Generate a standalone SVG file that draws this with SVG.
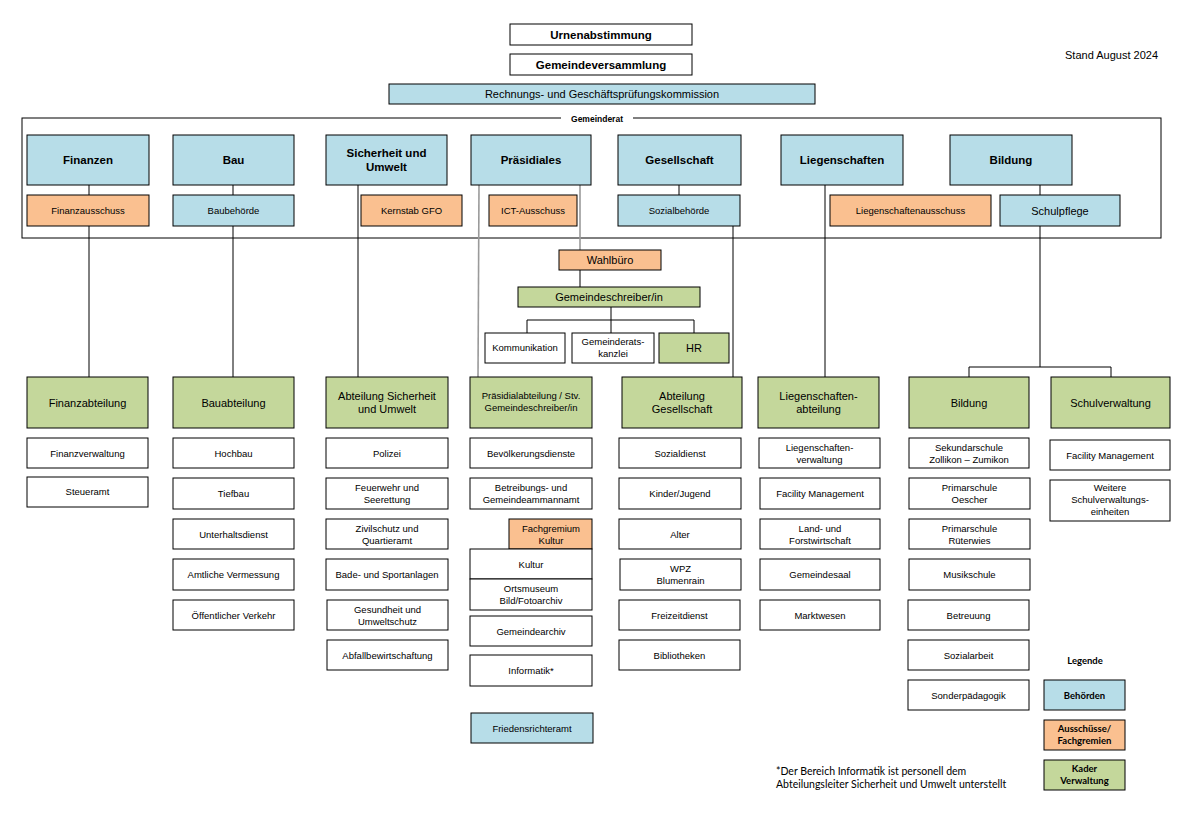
<svg xmlns="http://www.w3.org/2000/svg" width="1195" height="829" viewBox="0 0 1195 829">
<style>
.w,.b,.o,.g,.fr{stroke:#000;stroke-width:1}
.w{fill:#fff}.b{fill:#b7dde8}.o{fill:#fac090}.g{fill:#c4d79b}.fr{fill:none}
text{font-family:"Liberation Sans",Arial,sans-serif;fill:#000;text-anchor:middle}
.h{font-size:11.5px;font-weight:bold}
.m{font-size:11px}
.s{font-size:9.5px}
.c{font-family:Lato,"Noto Sans",sans-serif}
.cl{font-family:Lato,"Noto Sans",sans-serif;font-size:9.5px;font-weight:bold}
.con line{stroke:#000;stroke-width:1}
.con line.gr{stroke:#9a9a9a;stroke-width:1.6}
</style>
<rect width="1195" height="829" fill="#fff"/>

<g id="gemeinderat-frame">
<rect class="fr" x="22" y="118" width="1139" height="120"/>
<rect x="561" y="113" width="72" height="10" fill="#fff"/>
<text x="597" y="122" style="font-size:8.5px;font-weight:bold">Gemeinderat</text>
</g>

<g class="con" id="connectors">
<line x1="89" y1="185" x2="89" y2="195"/><line x1="89" y1="226" x2="89" y2="377"/>
<line x1="233" y1="185" x2="233" y2="195"/><line x1="233" y1="226" x2="233" y2="377"/>
<line x1="358" y1="185" x2="358" y2="377"/>
<line class="gr" x1="479" y1="185" x2="478" y2="377"/>
<line class="gr" x1="580" y1="185" x2="580" y2="250"/>
<line x1="580" y1="270" x2="580" y2="287"/>
<line x1="611" y1="307" x2="611" y2="333"/>
<line x1="527" y1="320" x2="694" y2="320"/>
<line x1="527" y1="320" x2="527" y2="333"/>
<line x1="694" y1="320" x2="694" y2="333"/>
<line x1="679" y1="185" x2="679" y2="195"/><line x1="733" y1="226" x2="733" y2="377"/>
<line x1="825" y1="185" x2="825" y2="377"/>
<line x1="1040" y1="185" x2="1040" y2="195"/><line x1="1040" y1="226" x2="1040" y2="367"/>
<line x1="969" y1="367" x2="1111" y2="367"/>
<line x1="969" y1="367" x2="969" y2="377"/><line x1="1111" y1="367" x2="1111" y2="377"/>
</g>

<g id="urnenabstimmung"><rect class="w" x="510" y="24" width="182" height="21"/><text class="h" x="601" y="38.5">Urnenabstimmung</text></g>
<g id="gemeindeversammlung"><rect class="w" x="510" y="54" width="182" height="21"/><text class="h" x="601" y="68.5">Gemeindeversammlung</text></g>
<g id="rpk"><rect class="b" x="389" y="84" width="426" height="20"/><text class="m" x="602" y="98">Rechnungs- und Geschäftsprüfungskommission</text></g>
<g id="stand"><text x="1158" y="59" style="font-size:11px;text-anchor:end">Stand August 2024</text></g>

<g id="finanzen"><rect class="b" x="27" y="135" width="122" height="50"/><text class="h" x="88" y="164">Finanzen</text></g>
<g id="bau"><rect class="b" x="173" y="135" width="121" height="50"/><text class="h" x="233.5" y="164">Bau</text></g>
<g id="sicherheit"><rect class="b" x="326" y="135" width="121" height="50"/><text class="h" x="386.5" y="157">Sicherheit und</text><text class="h" x="386.5" y="171">Umwelt</text></g>
<g id="praesidiales"><rect class="b" x="471" y="135" width="120" height="50"/><text class="h" x="531" y="164">Präsidiales</text></g>
<g id="gesellschaft"><rect class="b" x="618" y="135" width="123" height="50"/><text class="h" x="679.5" y="164">Gesellschaft</text></g>
<g id="liegenschaften"><rect class="b" x="781" y="135" width="122" height="50"/><text class="h" x="842" y="164">Liegenschaften</text></g>
<g id="bildung-gr"><rect class="b" x="950" y="135" width="122" height="50"/><text class="h" x="1011" y="164">Bildung</text></g>

<g id="finanzausschuss"><rect class="o" x="27" y="195" width="122" height="31"/><text class="s" x="88" y="214">Finanzausschuss</text></g>
<g id="baubehoerde"><rect class="b" x="173" y="195" width="121" height="31"/><text class="s" x="233.5" y="214">Baubehörde</text></g>
<g id="kernstab"><rect class="o" x="361" y="195" width="101" height="31"/><text class="s" x="411.5" y="214">Kernstab GFO</text></g>
<g id="ict"><rect class="o" x="489" y="195" width="88" height="31"/><text class="s" x="533" y="214">ICT-Ausschuss</text></g>
<g id="sozialbehoerde"><rect class="b" x="618" y="195" width="122" height="31"/><text class="s" x="679" y="214">Sozialbehörde</text></g>
<g id="liegenschaftenausschuss"><rect class="o" x="830" y="195" width="161" height="31"/><text class="s" x="910.5" y="214">Liegenschaftenausschuss</text></g>
<g id="schulpflege"><rect class="b" x="1000" y="195" width="120" height="31"/><text class="m" x="1060" y="214.5">Schulpflege</text></g>

<g id="wahlbuero"><rect class="o" x="559" y="250" width="102" height="20"/><text class="m" x="610" y="264">Wahlbüro</text></g>
<g id="gemeindeschreiber"><rect class="g" x="518" y="287" width="182" height="20"/><text class="m" x="609" y="301">Gemeindeschreiber/in</text></g>
<g id="kommunikation"><rect class="w" x="485" y="333" width="80" height="30"/><text class="s" x="525" y="351">Kommunikation</text></g>
<g id="kanzlei"><rect class="w" x="572" y="333" width="82" height="30"/><text class="s" x="613" y="345">Gemeinderats-</text><text class="s" x="613" y="357">kanzlei</text></g>
<g id="hr"><rect class="g" x="659" y="333" width="70" height="30"/><text class="m" x="694" y="352">HR</text></g>

<g id="finanzabteilung"><rect class="g" x="27" y="377" width="121" height="51"/><text class="m" x="87.5" y="406.5">Finanzabteilung</text></g>
<g id="bauabteilung"><rect class="g" x="173" y="377" width="121" height="51"/><text class="m" x="233.5" y="406.5">Bauabteilung</text></g>
<g id="abt-sicherheit"><rect class="g" x="326" y="377" width="122" height="51"/><text class="m" x="387" y="400">Abteilung Sicherheit</text><text class="m" x="387" y="413">und Umwelt</text></g>
<g id="praesidialabteilung"><rect class="g" x="470" y="377" width="122" height="51"/><text class="s" x="531" y="399">Präsidialabteilung / Stv.</text><text class="s" x="531" y="411">Gemeindeschreiber/in</text></g>
<g id="abt-gesellschaft"><rect class="g" x="622" y="377" width="120" height="51"/><text class="m" x="682" y="400">Abteilung</text><text class="m" x="682" y="413">Gesellschaft</text></g>
<g id="liegenschaftenabteilung"><rect class="g" x="758" y="377" width="121" height="51"/><text class="m" x="818.5" y="400">Liegenschaften-</text><text class="m" x="818.5" y="413">abteilung</text></g>
<g id="bildung"><rect class="g" x="909" y="377" width="120" height="51"/><text class="m" x="969" y="406.5">Bildung</text></g>
<g id="schulverwaltung"><rect class="g" x="1051" y="377" width="119" height="51"/><text class="m" x="1110.5" y="406.5">Schulverwaltung</text></g>

<g id="finanzverwaltung"><rect class="w" x="27" y="438" width="121" height="30"/><text class="s" x="87.5" y="456.5">Finanzverwaltung</text></g>
<g id="steueramt"><rect class="w" x="27" y="477" width="121" height="30"/><text class="s" x="87.5" y="495">Steueramt</text></g>

<g id="hochbau"><rect class="w" x="173" y="438" width="121" height="30"/><text class="s" x="233.5" y="456.5">Hochbau</text></g>
<g id="tiefbau"><rect class="w" x="173" y="478" width="121" height="31"/><text class="s" x="233.5" y="497">Tiefbau</text></g>
<g id="unterhaltsdienst"><rect class="w" x="173" y="519" width="121" height="30"/><text class="s" x="233.5" y="537.5">Unterhaltsdienst</text></g>
<g id="vermessung"><rect class="w" x="173" y="559" width="121" height="31"/><text class="s" x="233.5" y="578">Amtliche Vermessung</text></g>
<g id="oev"><rect class="w" x="173" y="600" width="121" height="30"/><text class="s" x="233.5" y="618.5">Öffentlicher Verkehr</text></g>

<g id="polizei"><rect class="w" x="326" y="438" width="122" height="30"/><text class="s" x="387" y="456.5">Polizei</text></g>
<g id="feuerwehr"><rect class="w" x="326" y="478" width="122" height="31"/><text class="s" x="387" y="491">Feuerwehr und</text><text class="s" x="387" y="503">Seerettung</text></g>
<g id="zivilschutz"><rect class="w" x="326" y="519" width="122" height="30"/><text class="s" x="387" y="531.5">Zivilschutz und</text><text class="s" x="387" y="543.5">Quartieramt</text></g>
<g id="bade"><rect class="w" x="326" y="559" width="122" height="31"/><text class="s" x="387" y="578">Bade- und Sportanlagen</text></g>
<g id="gesundheit"><rect class="w" x="327" y="600" width="121" height="30"/><text class="s" x="387.5" y="612.5">Gesundheit und</text><text class="s" x="387.5" y="624.5">Umweltschutz</text></g>
<g id="abfall"><rect class="w" x="327" y="640" width="121" height="30"/><text class="s" x="387.5" y="658.5">Abfallbewirtschaftung</text></g>

<g id="bevoelkerungsdienste"><rect class="w" x="470" y="438" width="122" height="30"/><text class="s" x="531" y="456.5">Bevölkerungsdienste</text></g>
<g id="betreibungsamt"><rect class="w" x="470" y="478" width="122" height="31"/><text class="s" x="531" y="491">Betreibungs- und</text><text class="s" x="531" y="503">Gemeindeammannamt</text></g>
<g id="fachgremium"><rect class="o" x="509" y="519" width="83" height="30"/><text class="s" x="551" y="531.5">Fachgremium</text><text class="s" x="551" y="543.5">Kultur</text></g>
<g id="kultur"><rect class="w" x="470" y="549" width="122" height="30"/><text class="s" x="531" y="567.5">Kultur</text></g>
<g id="ortsmuseum"><rect class="w" x="470" y="579" width="122" height="31"/><text class="s" x="531" y="592">Ortsmuseum</text><text class="s" x="531" y="604">Bild/Fotoarchiv</text></g>
<g id="gemeindearchiv"><rect class="w" x="470" y="616" width="122" height="30"/><text class="s" x="531" y="634.5">Gemeindearchiv</text></g>
<g id="informatik"><rect class="w" x="470" y="655" width="122" height="31"/><text class="s" x="531" y="674">Informatik*</text></g>
<g id="friedensrichteramt"><rect class="b" x="471" y="713" width="122" height="30"/><text class="s" x="532" y="731.5">Friedensrichteramt</text></g>

<g id="sozialdienst"><rect class="w" x="619" y="438" width="122" height="30"/><text class="s" x="680" y="456.5">Sozialdienst</text></g>
<g id="kinder"><rect class="w" x="619" y="478" width="122" height="31"/><text class="s" x="680" y="497">Kinder/Jugend</text></g>
<g id="alter"><rect class="w" x="619" y="519" width="122" height="30"/><text class="s" x="680" y="537.5">Alter</text></g>
<g id="wpz"><rect class="w" x="620" y="559" width="121" height="31"/><text class="s" x="680.5" y="572">WPZ</text><text class="s" x="680.5" y="584">Blumenrain</text></g>
<g id="freizeitdienst"><rect class="w" x="619" y="600" width="121" height="30"/><text class="s" x="679.5" y="618.5">Freizeitdienst</text></g>
<g id="bibliotheken"><rect class="w" x="619" y="640" width="121" height="30"/><text class="s" x="679.5" y="658.5">Bibliotheken</text></g>

<g id="liegenschaftenverwaltung"><rect class="w" x="759" y="438" width="121" height="30"/><text class="s" x="819.5" y="450.5">Liegenschaften-</text><text class="s" x="819.5" y="462.5">verwaltung</text></g>
<g id="fm-liegenschaften"><rect class="w" x="760" y="478" width="120" height="31"/><text class="s" x="820" y="497">Facility Management</text></g>
<g id="landforst"><rect class="w" x="760" y="519" width="120" height="30"/><text class="s" x="820" y="531.5">Land- und</text><text class="s" x="820" y="543.5">Forstwirtschaft</text></g>
<g id="gemeindesaal"><rect class="w" x="760" y="559" width="120" height="31"/><text class="s" x="820" y="578">Gemeindesaal</text></g>
<g id="marktwesen"><rect class="w" x="760" y="600" width="120" height="30"/><text class="s" x="820" y="618.5">Marktwesen</text></g>

<g id="sekundarschule"><rect class="w" x="909" y="438" width="120" height="30"/><text class="s" x="969" y="450.5">Sekundarschule</text><text class="s" x="969" y="462.5">Zollikon – Zumikon</text></g>
<g id="oescher"><rect class="w" x="909" y="478" width="121" height="31"/><text class="s" x="969.5" y="491">Primarschule</text><text class="s" x="969.5" y="503">Oescher</text></g>
<g id="rueterwies"><rect class="w" x="909" y="519" width="121" height="30"/><text class="s" x="969.5" y="531.5">Primarschule</text><text class="s" x="969.5" y="543.5">Rüterwies</text></g>
<g id="musikschule"><rect class="w" x="909" y="559" width="121" height="31"/><text class="s" x="969.5" y="578">Musikschule</text></g>
<g id="betreuung"><rect class="w" x="908" y="600" width="121" height="30"/><text class="s" x="968.5" y="618.5">Betreuung</text></g>
<g id="sozialarbeit"><rect class="w" x="908" y="640" width="121" height="30"/><text class="s" x="968.5" y="658.5">Sozialarbeit</text></g>
<g id="sonderpaedagogik"><rect class="w" x="908" y="680" width="121" height="30"/><text class="s" x="968.5" y="698.5">Sonderpädagogik</text></g>

<g id="fm-schule"><rect class="w" x="1050" y="440" width="120" height="30"/><text class="s" x="1110" y="458.5">Facility Management</text></g>
<g id="weitere"><rect class="w" x="1050" y="480" width="120" height="41"/><text class="s" x="1110" y="491">Weitere</text><text class="s" x="1110" y="503">Schulverwaltungs-</text><text class="s" x="1110" y="515">einheiten</text></g>

<g id="legende">
<text class="cl" x="1085" y="664">Legende</text>
<rect class="b" x="1044" y="680" width="81" height="30"/><text class="cl" x="1084.5" y="698.5">Behörden</text>
<rect class="o" x="1044" y="720" width="81" height="30"/><text class="cl" x="1084.5" y="732">Ausschüsse/</text><text class="cl" x="1084.5" y="744">Fachgremien</text>
<rect class="g" x="1044" y="760" width="81" height="30"/><text class="cl" x="1084.5" y="772">Kader</text><text class="cl" x="1084.5" y="784">Verwaltung</text>
</g>

<g id="fussnote">
<text class="c" x="776" y="775" style="font-size:10.5px;text-anchor:start">*Der Bereich Informatik ist personell dem</text>
<text class="c" x="776" y="788" style="font-size:10.5px;text-anchor:start">Abteilungsleiter Sicherheit und Umwelt unterstellt</text>
</g>
</svg>
